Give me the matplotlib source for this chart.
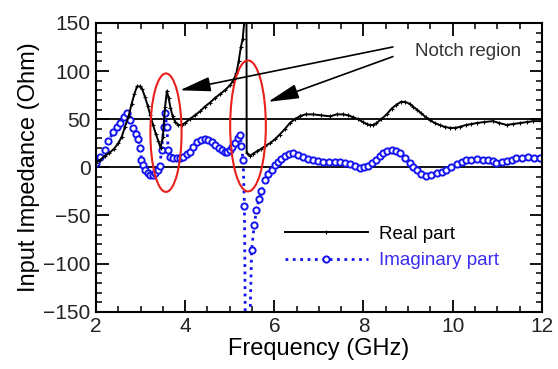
import numpy as np
import matplotlib
matplotlib.use('Agg')
import matplotlib.pyplot as plt
from matplotlib.patches import Ellipse
from matplotlib.ticker import MultipleLocator

plt.rcParams['font.family'] = ['Liberation Sans', 'DejaVu Sans']

# real part of input impedance (GHz, Ohm)
real_f = [2.00, 2.10, 2.20, 2.30, 2.40, 2.50, 2.58, 2.65, 2.73, 2.80, 2.86, 2.92,
          2.98, 3.04, 3.10, 3.16, 3.22, 3.28, 3.34, 3.40, 3.45, 3.50, 3.55, 3.59,
          3.63, 3.67, 3.72, 3.78, 3.85, 3.92, 4.00, 4.10, 4.22, 4.33, 4.44, 4.55,
          4.67, 4.78, 4.89, 5.00, 5.08, 5.15, 5.20, 5.25, 5.29, 5.375, 5.38, 5.45,
          5.52, 5.62, 5.70, 5.79, 5.90, 6.01, 6.12, 6.24, 6.35, 6.46, 6.57, 6.70,
          6.87, 7.05, 7.25, 7.40, 7.54, 7.66, 7.77, 7.88, 7.99, 8.07, 8.14, 8.22,
          8.29, 8.40, 8.52, 8.63, 8.74, 8.84, 8.93, 9.04, 9.11, 9.20, 9.30, 9.40,
          9.49, 9.60, 9.71, 9.82, 9.94, 10.05, 10.16, 10.30, 10.42, 10.54, 10.70,
          10.90, 11.05, 11.21, 11.35, 11.51, 11.66, 11.81, 12.00]
real_z = [5, 8, 12, 15, 19, 25, 32, 42, 53, 66, 76, 84,
          84, 81, 73, 64, 54, 44, 35, 27, 20, 32, 63, 79,
          72, 62, 53, 47, 44, 44, 46, 50, 54, 58, 63, 67,
          72, 76, 80, 85, 90, 98, 110, 125, 133, 175, 15, 12,
          14, 17, 19, 22, 25, 29, 34, 40, 46, 50, 53, 55,
          55, 54, 53, 55, 55, 54, 52, 50, 47, 45, 44, 44,
          46, 50, 55, 61, 65, 68, 68, 66, 63, 60, 56, 52,
          49, 46, 44, 42, 41, 41, 42, 44, 45, 46, 47,
          48, 46, 44, 45, 46, 47, 48, 48]

# imaginary part
imag_f = [2.00, 2.10, 2.20, 2.28, 2.39, 2.47, 2.54, 2.62, 2.69, 2.76, 2.84, 2.90,
          2.95, 2.99, 3.02, 3.06, 3.10, 3.16, 3.21, 3.27, 3.32, 3.38, 3.43, 3.47,
          3.52, 3.55, 3.59, 3.62, 3.66, 3.73, 3.81, 3.88, 3.96, 4.04, 4.11, 4.18,
          4.26, 4.35, 4.44, 4.52, 4.60, 4.67, 4.75, 4.82, 4.89, 4.95, 5.00, 5.06,
          5.12, 5.18, 5.23, 5.26, 5.30, 5.33, 5.35, 5.45, 5.49, 5.55, 5.60, 5.66,
          5.71, 5.79, 5.86, 5.94, 6.02, 6.09, 6.16, 6.24, 6.33, 6.43, 6.54, 6.65,
          6.76, 6.87, 6.98, 7.10, 7.22, 7.35, 7.47, 7.58, 7.70, 7.81, 7.92, 8.01,
          8.10, 8.20, 8.29, 8.37, 8.44, 8.53, 8.63, 8.72, 8.82, 8.93, 9.04, 9.12,
          9.19, 9.28, 9.41, 9.52, 9.64, 9.75, 9.86, 9.97, 10.09, 10.20, 10.31,
          10.42, 10.54, 10.67, 10.80, 10.90, 10.98, 11.10, 11.21, 11.32, 11.43,
          11.56, 11.69, 11.82, 11.96]
imag_z = [5, 11, 18, 27, 37, 42, 46, 52, 56, 49, 41, 35,
          29, 20, 8, 2, -3, -6, -8, -8, -6, -3, 1, 18,
          42, 56, 42, 18, 11, 10, 10, 10, 11, 14, 16, 21,
          26, 28, 29, 28, 26, 23, 20, 18, 16, 16, 18, 21,
          25, 30, 34, 22, 8, -40, -170, -170, -86, -60, -44, -33,
          -25, -13, -7, -3, 2, 6, 9, 12, 14, 15, 13, 11,
          9, 8, 7, 6, 6, 6, 6, 5, 3, 1, -1, 0,
          1, 4, 8, 12, 15, 17, 18, 17, 15, 10, 5, 0,
          -3, -7, -9, -8, -6, -5, -3, 0, 3, 6, 8,
          8, 8.5, 8, 8, 7, 5, 6, 7, 8, 9.5,
          10, 11, 10, 9.5]

# notch regions: (centre f, centre Z, width GHz, height Ohm)
notches = [(3.57, 36, 0.70, 123), (5.41, 43, 0.80, 136)]
# arrows from label to notch: (tail f, tail Z, tip f, tip Z)
arrows = [(8.66, 125, 3.88, 80), (8.66, 115, 5.86, 68)]

fig = plt.figure(figsize=(5.58, 3.69), dpi=100)
ax = fig.add_axes([0.172, 0.155, 0.799, 0.783])

ax.axhline(50, color='black', lw=1.3, zorder=1)
ax.axhline(0, color='black', lw=1.3, zorder=1)

ax.plot(real_f, real_z, '-', color='black', lw=1.4, marker='+', ms=3,
        mew=0.8, label='Real part', zorder=3)
ax.plot(imag_f, imag_z, ':', color='#1414f0', lw=2, marker='o', ms=4.5,
        mfc='white', mec='#1414f0', mew=1.4, label='Imaginary part', zorder=2)

for cf, cz, w, h in notches:
    ax.add_patch(Ellipse((cf, cz), w, h, fill=False, edgecolor='#e8201c',
                         lw=1.5, zorder=4))

for tf, tz, hf, hz in arrows:
    ax.annotate('', xy=(hf, hz), xytext=(tf, tz),
                arrowprops=dict(arrowstyle='-|>,head_length=1.9,head_width=0.45',
                                color='black', lw=1.2, shrinkA=0, shrinkB=0,
                                mutation_scale=10), zorder=5)
ax.text(9.15, 120, 'Notch region', fontsize=13.5, color='#333333',
        va='center', ha='left')

ax.set_xlim(2, 12)
ax.set_ylim(-150, 150)
ax.xaxis.set_major_locator(MultipleLocator(2))
ax.xaxis.set_minor_locator(MultipleLocator(0.5))
ax.yaxis.set_major_locator(MultipleLocator(50))
ax.yaxis.set_minor_locator(MultipleLocator(10))
ax.tick_params(which='both', direction='in', top=True, right=True,
               labelsize=15, labelcolor='#222222')
ax.tick_params(which='major', length=9, width=1.3, pad=4)
ax.tick_params(which='minor', length=4.5, width=1.1)
for s in ax.spines.values():
    s.set_linewidth(1.5)

ax.set_xlabel('Frequency (GHz)', fontsize=17, labelpad=1)
ax.set_ylabel('Input Impedance (Ohm)', fontsize=17, labelpad=2)

leg = ax.legend(loc='center left', bbox_to_anchor=(0.424, 0.223),
                frameon=False, fontsize=13.5, handlelength=4.4,
                handletextpad=0.6, labelspacing=0.5, numpoints=1,
                borderpad=0, borderaxespad=0)
leg.get_texts()[1].set_color('#3a2cf0')

fig.savefig('out.png', dpi=100)
